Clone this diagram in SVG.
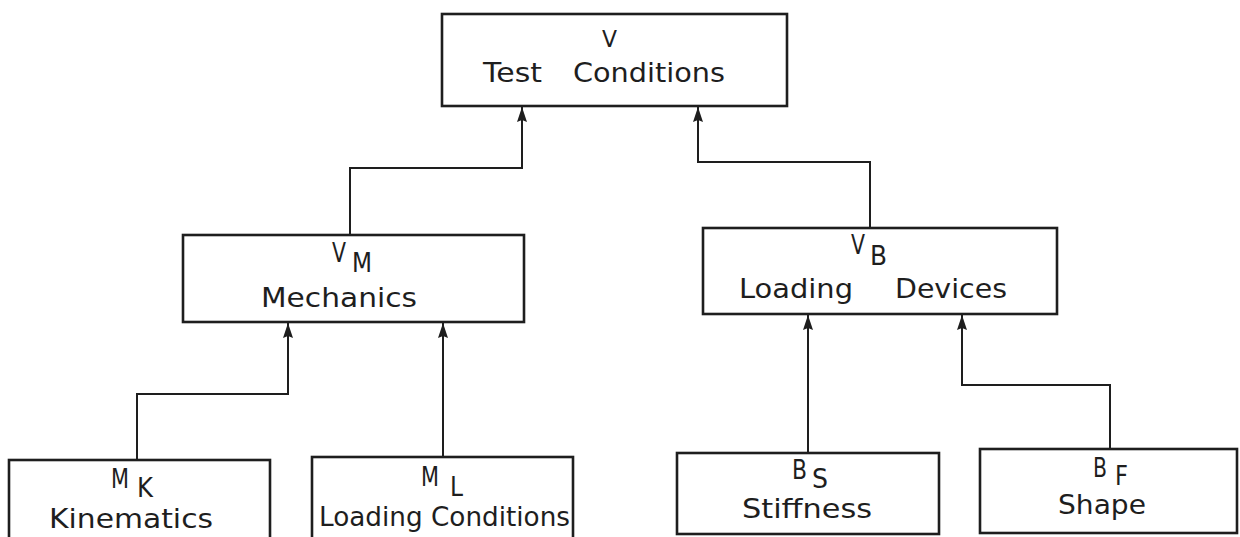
<svg xmlns="http://www.w3.org/2000/svg" width="1240" height="537" viewBox="0 0 1240 537">
  <defs>
    <marker id="arrow" markerUnits="userSpaceOnUse" markerWidth="15" markerHeight="10" viewBox="0 0 15 10" refX="15" refY="5" orient="auto">
      <path d="M0,0 L15,5 L0,10 L2,5 Z" fill="#1e1e1e"/>
    </marker>
    <style>
      .box { fill: #ffffff; stroke: #1e1e1e; stroke-width: 2.6; }
      .link { fill: none; stroke: #1e1e1e; stroke-width: 2; marker-end: url(#arrow); }
      text { font-family: "DejaVu Sans", "Liberation Sans", sans-serif; fill: #1e1e1e; }
      .lbl { font-size: 27px; }
      .sym { font-size: 26px; }
      .top { font-size: 23px; }
    </style>
  </defs>
  <rect width="1240" height="537" fill="#ffffff"/>

  <!-- connectors: children point up into their parent -->
  <g id="connectors">
    <path class="link" d="M350,235 V168 H522 V107"/>
    <path class="link" d="M870,228 V162 H698 V107"/>
    <path class="link" d="M137,460 V394 H288 V323"/>
    <path class="link" d="M443,457 V323"/>
    <path class="link" d="M808,453 V315"/>
    <path class="link" d="M1110,449 V385 H962 V315"/>
  </g>

  <g id="node-v">
    <rect class="box" x="442" y="14" width="345" height="92"/>
    <text class="top" x="602" y="47" textLength="15" lengthAdjust="spacingAndGlyphs">V</text>
    <text class="lbl" x="483" y="82" textLength="59" lengthAdjust="spacingAndGlyphs">Test</text>
    <text class="lbl" x="573" y="82" textLength="152" lengthAdjust="spacingAndGlyphs">Conditions</text>
  </g>

  <!-- symbol + subscript share one text element -->
  <g id="node-vm">
    <rect class="box" x="183" y="235" width="341" height="87"/>
    <text class="sym"><tspan x="332" y="262" textLength="14" lengthAdjust="spacingAndGlyphs">V</tspan><tspan x="352" y="272" textLength="20" lengthAdjust="spacingAndGlyphs">M</tspan></text>
    <text class="lbl" x="261" y="307" textLength="156" lengthAdjust="spacingAndGlyphs">Mechanics</text>
  </g>

  <g id="node-vb">
    <rect class="box" x="703" y="228" width="354" height="86"/>
    <text class="sym"><tspan x="851" y="254" textLength="14" lengthAdjust="spacingAndGlyphs">V</tspan><tspan x="870" y="265" textLength="17" lengthAdjust="spacingAndGlyphs">B</tspan></text>
    <text class="lbl" x="739" y="298" textLength="114" lengthAdjust="spacingAndGlyphs">Loading</text>
    <text class="lbl" x="895" y="298" textLength="112" lengthAdjust="spacingAndGlyphs">Devices</text>
  </g>

  <g id="node-mk">
    <rect class="box" x="9" y="460" width="261" height="84"/>
    <text class="sym"><tspan x="111" y="488" textLength="18" lengthAdjust="spacingAndGlyphs">M</tspan><tspan x="137" y="497" textLength="16" lengthAdjust="spacingAndGlyphs">K</tspan></text>
    <text class="lbl" x="49" y="528" textLength="164" lengthAdjust="spacingAndGlyphs">Kinematics</text>
  </g>

  <g id="node-ml">
    <rect class="box" x="312" y="457" width="261" height="87"/>
    <text class="sym"><tspan x="421" y="486" textLength="18" lengthAdjust="spacingAndGlyphs">M</tspan><tspan x="450" y="496" textLength="13" lengthAdjust="spacingAndGlyphs">L</tspan></text>
    <text class="lbl" x="319" y="526" textLength="251" lengthAdjust="spacingAndGlyphs">Loading Conditions</text>
  </g>

  <g id="node-bs">
    <rect class="box" x="677" y="453" width="262" height="81"/>
    <text class="sym"><tspan x="792" y="479" textLength="15" lengthAdjust="spacingAndGlyphs">B</tspan><tspan x="812" y="488" textLength="16" lengthAdjust="spacingAndGlyphs">S</tspan></text>
    <text class="lbl" x="742" y="518" textLength="130" lengthAdjust="spacingAndGlyphs">Stiffness</text>
  </g>

  <g id="node-bf">
    <rect class="box" x="980" y="449" width="257" height="84"/>
    <text class="sym"><tspan x="1093" y="477" textLength="14" lengthAdjust="spacingAndGlyphs">B</tspan><tspan x="1115" y="485" textLength="13" lengthAdjust="spacingAndGlyphs">F</tspan></text>
    <text class="lbl" x="1058" y="514" textLength="88" lengthAdjust="spacingAndGlyphs">Shape</text>
  </g>
</svg>
